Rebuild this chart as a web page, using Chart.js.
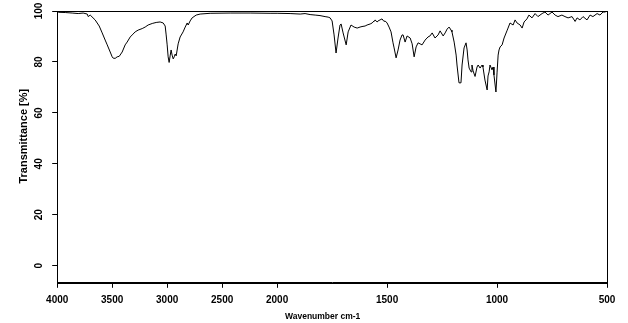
<!DOCTYPE html>
<html><head><meta charset="utf-8">
<script src="https://cdn.jsdelivr.net/npm/chart.js@4/dist/chart.umd.min.js"></script>
<style>html,body{margin:0;padding:0;background:#fff}</style>
</head><body>
<canvas id="c" width="628" height="323"></canvas>
<script>
// Wavenumber (cm-1) and transmittance (%)
const wavenumbers = [3991,3927,3864,3809,3764,3727,3718,3700,3655,3618,3591,3564,3545,3518,3500,3491,3473,3455,3436,3409,3382,3364,3336,3318,3291,3264,3227,3200,3173,3136,3100,3064,3036,3018,3009,3000,2991,2982,2973,2964,2955,2945,2936,2927,2918,2900,2882,2855,2836,2818,2809,2791,2773,2736,2700,2609,2427,2245,2064,
2000,1941,1895,1873,1850,1827,1805,1782,1768,1759,1750,1741,1732,1723,1714,1709,1700,1686,1677,1664,1650,1636,1623,1614,1600,1591,1577,1568,1559,1555,1545,1541,1532,1523,1514,1509,1500,1491,1482,1473,1468,1459,1450,1441,1432,1427,1418,1409,1395,1386,1377,1368,1359,1350,1341,1327,1314,1305,1295,1282,1268,1259,1245,1236,1227,1218,1209,1205,1195,1186,1182,1173,1164,1159,1150,1141,1136,1132,1127,1118,1114,1109,1100,1091,1086,1077,1068,1064,1055,1045,1041,1036,1032,1023,1018,1014,1005,1000,995,991,986,977,968,955,950,941,927,918,909,895,886,877,864,855,841,827,814,795,782,768,750,736,723,705,691,677,659,645,636,623,609,591,577,564,545,532,518,509,500];
const transmittance = [99.5,99.4,99.2,99.0,99.2,98.8,97.8,98.4,96.5,94.1,91.4,88.6,86.7,83.9,82.0,81.5,81.4,82.0,82.2,83.9,86.7,87.8,89.8,90.6,91.8,92.5,93.1,93.7,94.5,95.1,95.5,95.7,95.3,94.1,90.6,86.7,82.0,79.8,82.4,84.7,82.7,81.2,82.0,83.1,82.4,87.1,89.8,91.8,93.7,95.3,94.5,96.1,97.3,98.4,98.8,99.1,99.2,99.2,99.1,
99.1,99.0,98.8,99.0,98.6,98.4,98.2,97.8,97.6,97.3,96.1,90.6,83.5,89.4,94.5,94.9,91.4,86.7,91.8,94.5,93.7,93.3,93.7,93.9,94.1,94.5,94.9,95.3,96.1,96.5,95.7,96.1,96.5,96.9,95.9,96.1,95.3,93.7,91.8,87.5,85.5,81.6,84.7,88.6,90.6,90.6,87.8,90.2,89.4,87.1,82.0,85.9,87.5,87.1,86.7,88.6,89.8,90.2,91.4,89.4,90.6,92.2,90.2,91.4,92.9,93.7,92.5,91.8,87.8,82.7,78.8,71.8,71.8,78.8,85.5,87.5,84.7,80.8,77.6,76.1,78.8,76.5,74.3,78.0,78.8,77.6,78.8,78.0,72.9,69.0,74.5,76.1,78.8,76.9,78.0,74.9,68.2,75.7,82.7,84.7,85.9,86.7,89.4,92.2,93.3,95.3,94.5,96.5,95.3,94.5,93.3,95.7,96.9,98.4,97.3,99.0,97.8,99.0,99.6,98.4,99.6,98.4,97.8,98.4,97.8,97.3,97.8,95.9,97.3,96.5,97.8,96.5,98.4,97.8,99.0,98.4,99.6,99.6,100.0];
const xTickLabels = [4000,3500,3000,2500,2000,1500,1000,500];
const yTickLabels = [0,20,40,60,80,100];

// split wavenumber axis: 4000-2000 compressed 2x relative to 2000-500
function toAxis(wn){ return wn >= 2000 ? (4000 - wn) / 2 : 1000 + (2000 - wn); }
function fromAxis(u){ return u <= 1000 ? 4000 - 2 * u : 3000 - u; }

const points = wavenumbers.map((w, i) => ({ x: toAxis(w), y: transmittance[i] }));
const FONT = '"Liberation Sans", Arial, sans-serif';

const frame = {
  id: 'frame',
  afterDraw(chart){
    const a = chart.chartArea, ctx = chart.ctx;
    ctx.save();
    ctx.strokeStyle = '#000'; ctx.lineWidth = 1;
    ctx.strokeRect(Math.round(a.left) + 0.5, Math.round(a.top) + 0.5, Math.round(a.right - a.left), Math.round(a.bottom - a.top));
    ctx.restore();
  }
};

new Chart(document.getElementById('c'), {
  type: 'line',
  data: { datasets: [{ data: points, borderColor: '#000', borderWidth: 1, pointRadius: 0, tension: 0, fill: false }] },
  options: {
    responsive: false, animation: false,
    layout: { padding: { top: 11, right: 21, left: 17, bottom: 1 } },
    plugins: { legend: { display: false }, tooltip: { enabled: false } },
    scales: {
      x: {
        type: 'linear', min: 0, max: 2500,
        afterBuildTicks(s){ s.ticks = xTickLabels.map(v => ({ value: toAxis(v) })); },
        ticks: { color: '#000', font: { family: FONT, size: 10, weight: 'bold' }, padding: 6, maxRotation: 0, minRotation: 0,
          callback: (v) => String(Math.round(fromAxis(v))) },
        grid: { display: true, drawOnChartArea: false, drawTicks: true, tickLength: 5, color: '#000' },
        border: { display: true, color: '#000', width: 1 },
        title: { display: true, text: 'Wavenumber cm-1        ', color: '#000', font: { family: FONT, size: 8.5, weight: 'bold' }, padding: { top: 0, bottom: 0 } }
      },
      y: {
        min: -6.7, max: 100,
        afterBuildTicks(s){ s.ticks = yTickLabels.map(v => ({ value: v })); },
        ticks: { color: '#000', font: { family: FONT, size: 10, weight: 'bold' }, padding: 5, minRotation: 90, maxRotation: 90, crossAlign: 'center' },
        grid: { display: true, drawOnChartArea: false, drawTicks: true, tickLength: 5, color: '#000' },
        border: { display: true, color: '#000', width: 1 },
        title: { display: true, text: '       Transmittance [%]', color: '#000', font: { family: FONT, size: 11, weight: 'bold' }, padding: { top: 0, bottom: 0 } }
      }
    }
  },
  plugins: [frame]
});
</script>
</body></html>
